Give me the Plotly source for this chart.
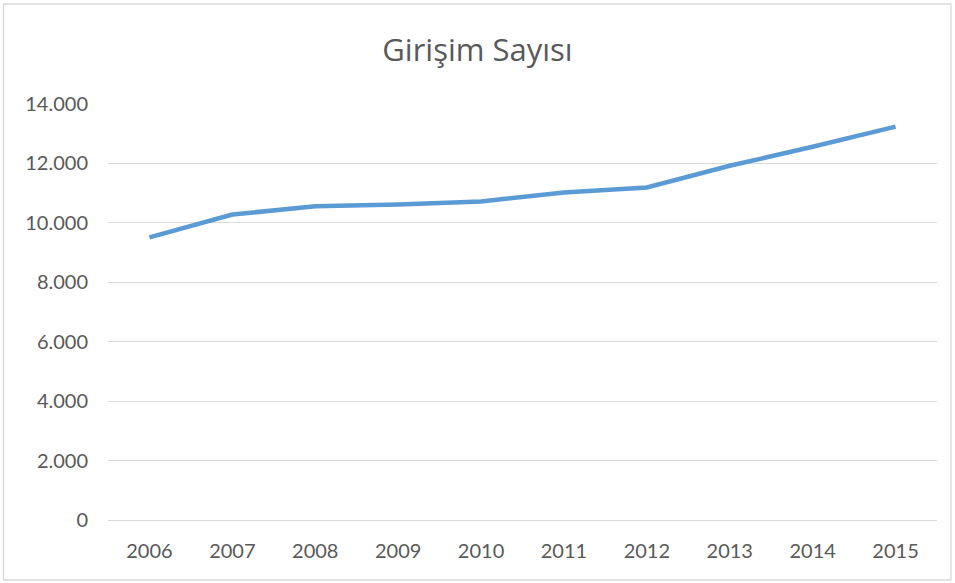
import plotly.graph_objects as go

# 데이터
years = ["2006", "2007", "2008", "2009", "2010", "2011", "2012", "2013", "2014", "2015"]
girisim_sayisi = [9510, 10280, 10560, 10620, 10720, 11020, 11190, 11920, 12560, 13240]
y_ticks = [0, 2000, 4000, 6000, 8000, 10000, 12000, 14000]

W, H = 955, 583
margin = dict(l=108, r=18, t=104, b=63)

fig = go.Figure(
    data=[
        go.Scatter(
            x=years,
            y=girisim_sayisi,
            mode="lines",
            line=dict(color="#5b9bd5", width=4.5),
            hovertemplate="<b>%{x}</b><br>%{y:,}<extra></extra>",
        )
    ]
)

# 바깥 테두리 (paper 좌표 기준)
pw = W - margin["l"] - margin["r"]
ph = H - margin["t"] - margin["b"]
fig.add_shape(
    type="rect", xref="paper", yref="paper",
    x0=(3.5 - margin["l"]) / pw, x1=(951 - margin["l"]) / pw,
    y0=(H - 580 - margin["b"]) / ph, y1=(H - 4 - margin["b"]) / ph,
    line=dict(color="#d9d9d9", width=1.3),
    fillcolor="rgba(0,0,0,0)", layer="below",
)

fig.update_layout(
    width=W, height=H,
    margin=margin,
    paper_bgcolor="white", plot_bgcolor="white",
    separators=",.",  # 14.000 형식
    showlegend=False,
    font=dict(family="Lato, 'Open Sans', sans-serif", color="#595959", size=20),
    title=dict(
        text="Girişim Sayısı",
        x=0.5, xref="container", xanchor="center",
        y=1 - 50 / H, yref="container", yanchor="middle",
        font=dict(family="'Open Sans', sans-serif", size=31, color="#595959", weight=400),
    ),
    xaxis=dict(
        type="category",
        range=[-0.5, 9.5],
        showgrid=False, zeroline=False,
        showline=True, linecolor="#d9d9d9", linewidth=1.3,
        ticks="", ticklabelstandoff=13,
        tickfont=dict(size=20),
    ),
    yaxis=dict(
        range=[0, 14000],
        tickvals=y_ticks, tickformat=",",
        showgrid=True, gridcolor="#d9d9d9", gridwidth=1.3,
        zeroline=False, showline=False,
        ticks="", ticklabelstandoff=19,
        tickfont=dict(size=20),
    ),
)

# 기본 body 여백(8px) 제거
fig.write_html(
    "out.html",
    config={"displayModeBar": False},
    post_script="document.body.style.margin='0px';",
)
